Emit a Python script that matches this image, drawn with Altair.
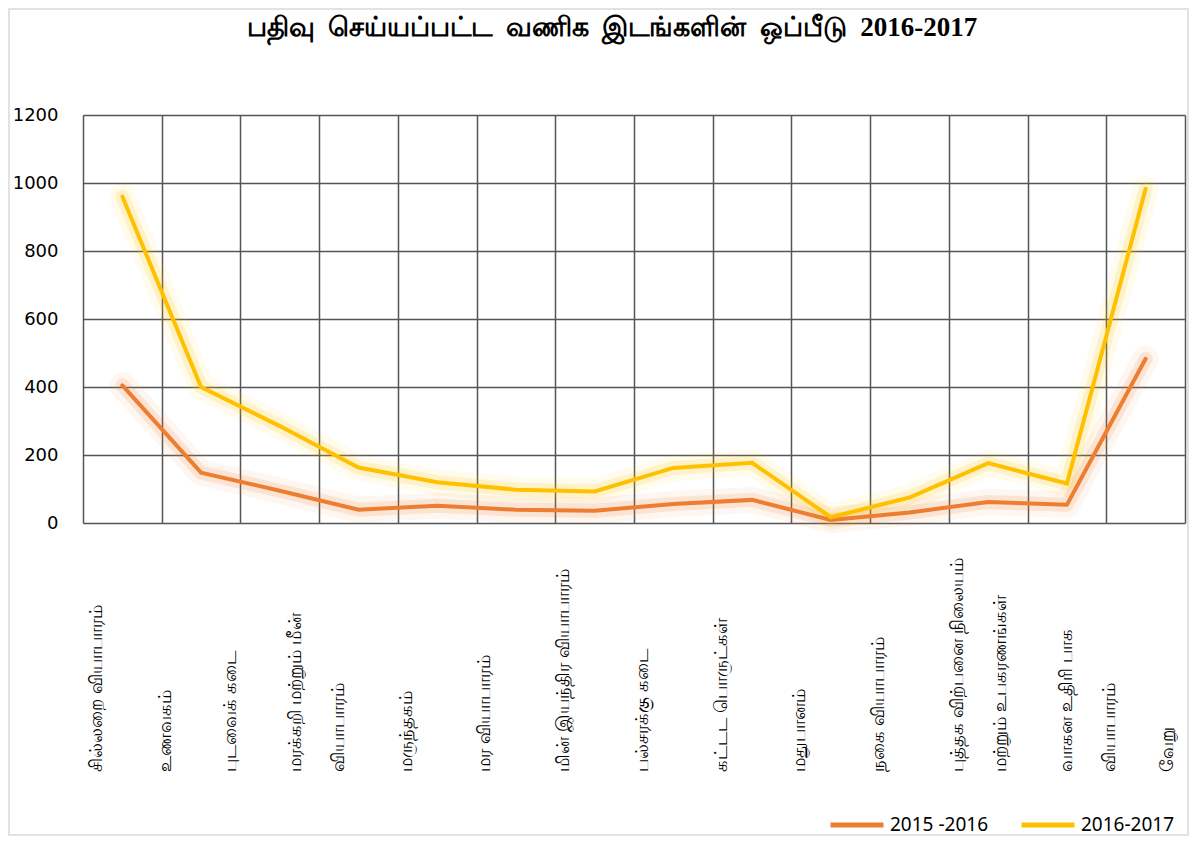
import altair as alt
import pandas as pd

categories = [
    "சில்லறை வியாபாரம்",
    "உணவகம்",
    "புடவைக் கடை",
    "மரக்கறி மற்றும் மீன்|வியாபாரம்",
    "மருந்தகம்",
    "மர வியாபாரம்",
    "மின் இயந்திர வியாபாரம்",
    "பல்சரக்கு கடை",
    "கட்டட பொருட்கள்",
    "மதுபானம்",
    "நகை வியாபாரம்",
    "புத்தக விற்பனை நிலையம்|மற்றும் உபகரணங்கள்",
    "வாகன உதிரி பாக|வியாபாரம்",
    "வேறு",
]
series_names = ["2015 -2016", "2016-2017"]
values_2015 = [405, 148, 95, 39, 51, 39, 36, 56, 68, 9, 31, 62, 54, 483]
values_2016 = [960, 400, 285, 163, 120, 98, 93, 162, 177, 17, 75, 176, 116, 983]
colors = ["#ED7D31", "#FFC000"]
title_words = ["பதிவு", "செய்யப்பட்ட", "வணிக", "இடங்களின்", "ஒப்பீடு", "2016-2017"]
title_text = " \u00a0".join(title_words)

rows = []
for c, v in zip(categories, values_2015):
    rows.append({"cat": c, "series": series_names[0], "value": v})
for c, v in zip(categories, values_2016):
    rows.append({"cat": c, "series": series_names[1], "value": v})
df = pd.DataFrame(rows)

FONT = "Noto Sans"
NUMFONT = "DejaVu Sans"


def cond(name, val):
    return {"test": "datum.value == '" + name + "'", "value": val}


label_offset = {
    "condition": [
        cond(categories[0], -26),
        cond(categories[1], -36),
        cond(categories[2], -49),
        cond(categories[3], -63),
        cond(categories[12], 0),
        cond(categories[13], 22),
    ],
    "value": -31,
}

x_enc = alt.X(
    "cat:N",
    sort=categories,
    bandPosition=0.5,
    scale=alt.Scale(type="band", paddingInner=0, paddingOuter=0),
    axis=alt.Axis(
        title=None,
        tickBand="extent",
        grid=True,
        gridColor="#555555",
        gridWidth=1.5,
        domain=False,
        ticks=False,
        tickSize=0,
        labelAngle=-90,
        labelAlign="left",
        labelBaseline="middle",
        labelPadding=248,
        labelOffset=label_offset,
        labelLineHeight=43,
        labelLimit=400,
        labelFontSize=18,
        labelFont=FONT,
        labelColor="#000000",
        labelExpr="split(datum.label, '|')",
    ),
)
y_enc = alt.Y(
    "value:Q",
    scale=alt.Scale(domain=[0, 1200], nice=False),
    axis=alt.Axis(
        title=None,
        values=[0, 200, 400, 600, 800, 1000, 1200],
        format="d",
        grid=True,
        gridColor="#555555",
        gridWidth=1.5,
        domain=False,
        ticks=False,
        labelPadding=25,
        labelFontSize=18,
        labelFont=NUMFONT,
        labelColor="#000000",
    ),
)
color_enc = alt.Color(
    "series:N",
    scale=alt.Scale(domain=series_names, range=colors),
    legend=alt.Legend(
        title=None,
        orient="none",
        legendX=745,
        legendY=681,
        direction="horizontal",
        symbolType="stroke",
        symbolSize=2809,
        symbolStrokeWidth=5,
        symbolOpacity=1,
        labelFontSize=19,
        labelFont=FONT,
        labelColor="#000000",
        labelOffset=4,
        columnPadding=22,
        padding=0,
    ),
)

base = alt.Chart(df).encode(x=x_enc, y=y_enc, color=color_enc, detail="series:N")

glow1 = base.mark_line(strokeWidth=26, opacity=0.07, strokeCap="round", strokeJoin="round")
glow2 = base.mark_line(strokeWidth=14, opacity=0.15, strokeCap="round", strokeJoin="round")
lines = base.mark_line(strokeWidth=4, strokeCap="round", strokeJoin="miter")

border = alt.Chart(pd.DataFrame({"a": [0]})).mark_rect(
    fill=None, stroke="#d9d9d9", strokeWidth=1.5
).encode(
    x=alt.value(-74), x2=alt.value(1105), y=alt.value(-106), y2=alt.value(720)
)

chart = alt.layer(border, glow1, glow2, lines).properties(
    width=1102,
    height=408,
    autosize=alt.AutoSizeParams(type="none"),
    padding={"left": 75, "top": 107, "right": 4, "bottom": 313},
    title=alt.TitleParams(
        text=title_text,
        font="Liberation Serif",
        fontSize=27,
        fontWeight="bold",
        color="#000000",
        anchor="middle",
        frame="group",
        baseline="alphabetic",
        dx=-22,
        dy=133,
        offset=78,
    ),
).configure_view(stroke=None).configure(background="white")

chart.save("out.html", embed_options={"renderer": "svg", "actions": False})
